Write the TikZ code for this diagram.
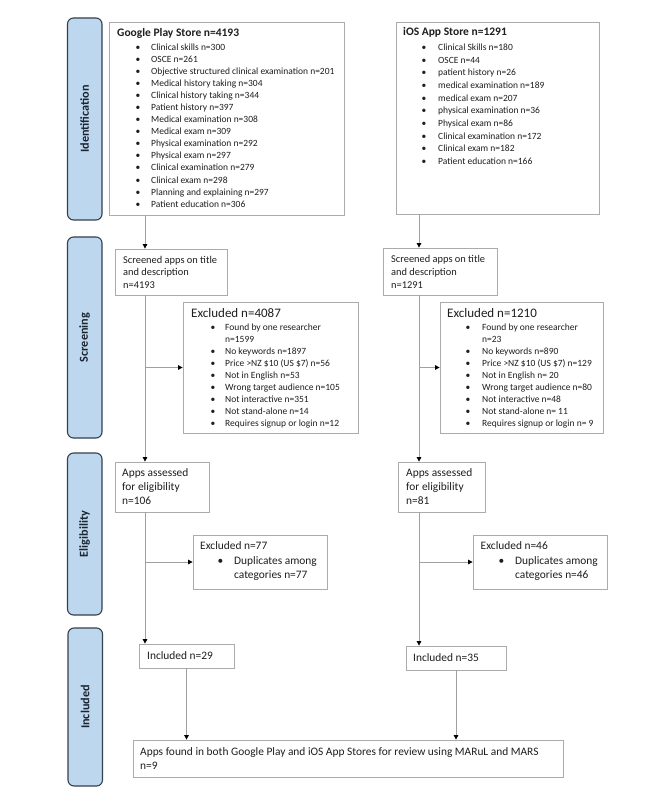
\documentclass[tikz,border=0pt]{standalone}
\usepackage{fontspec}
\setmainfont{Carlito}
\usetikzlibrary{arrows.meta,fit}
\definecolor{barfill}{HTML}{BDD7EE}
\definecolor{bardraw}{HTML}{34404C}
\definecolor{bartext}{HTML}{1C2430}
\definecolor{boxgray}{HTML}{ABABAB}
\definecolor{linegray}{HTML}{A0A0A0}
\definecolor{txt}{HTML}{1E1E1E}
\begin{document}
\begin{tikzpicture}[x=1pt,y=-1pt,
  bar/.style={draw=bardraw, fill=barfill, line width=1.1pt, rounded corners=6pt, inner sep=0pt},
  barlabel/.style={rotate=90, font=\bfseries\fontsize{12.2}{14}\selectfont, text=bartext, inner sep=0pt},
  box/.style={draw=boxgray, line width=0.8pt, inner sep=0pt},
  itm/.style={anchor=base west, inner sep=0pt, text=txt, font=\fontsize{9.5}{12}\selectfont},
  bul/.style={anchor=base west, inner sep=0pt, text=txt, font=\fontsize{9.5}{12}\selectfont},
  ttl/.style={anchor=base west, inner sep=0pt, text=txt, font=\bfseries\fontsize{11.5}{14}\selectfont},
  extitle/.style={anchor=base west, inner sep=0pt, text=txt, font=\fontsize{13}{15}\selectfont},
  mid/.style={anchor=base west, inner sep=0pt, text=txt, font=\fontsize{10.4}{12.6}\selectfont},
  big/.style={anchor=base west, inner sep=0pt, text=txt, font=\fontsize{11.4}{14}\selectfont},
  conn/.style={draw=linegray, line width=0.9pt},
  arr/.style={conn, -{Triangle[width=4.5pt,length=4.5pt,color=black]}}
]
\fill[white] (0,0) rectangle (666,799);
\useasboundingbox (0,0) rectangle (666,799);

% side bars
\node[bar, fit={(67.5,18) (102,220)}] (bid) {};
\node[barlabel] (lid) at (bid.center) {Identification};
\node[bar, fit={(67.5,237) (102,438)}] (bsc) {};
\node[barlabel] (lsc) at (bsc.center) {Screening};
\node[bar, fit={(67.5,453) (102,615)}] (bel) {};
\node[barlabel] (lel) at (bel.center) {Eligibility};
\node[bar, fit={(68,628) (102.5,786)}] (bin) {};
\node[barlabel] (lin) at (bin.center) {Included};

% column x positions
\coordinate (gx) at (145,0);
\coordinate (ix) at (419,0);

% Identification boxes
\node[box, fit={(109,22) (344,215)}] (gbox) {};
\node[ttl] (gttl) at (117,37) {Google Play Store n=4193};
\foreach \t [count=\i from 0] in {Clinical skills n=300, OSCE n=261, Objective structured clinical examination n=201, Medical history taking n=304, Clinical history taking n=344, Patient history n=397, Medical examination n=308, Medical exam n=309, Physical examination n=292, Physical exam n=297, Clinical examination n=279, Clinical exam n=298, Planning and explaining n=297, Patient education n=306}{
  \node[bul] (gb\i) at (135.5,{50.5+12.05*\i}) {\textbullet};
  \node[itm] (gi\i) at (151,{50.5+12.05*\i}) {\t};
}

\node[box, fit={(396,22) (599,214)}] (ibox) {};
\node[ttl] (ittl) at (403,36) {iOS App Store n=1291};
\foreach \t [count=\i from 0] in {Clinical Skills n=180, OSCE n=44, patient history n=26, medical examination n=189, medical exam n=207, physical examination n=36, Physical exam n=86, Clinical examination n=172, Clinical exam n=182, Patient education n=166}{
  \node[bul] (ib\i) at (421.5,{50.5+12.67*\i}) {\textbullet};
  \node[itm] (ii\i) at (438,{50.5+12.67*\i}) {\t};
}

% Screening (multi-line nodes: base anchor = last line)
\node[box, fit={(115,249) (227,295)}] (gscr) {};
\node[mid, align=left] (gscrt) at (123,288.5) {Screened apps on title\\and description\\n=4193};
\node[box, fit={(383,248) (497,295)}] (iscr) {};
\node[mid, align=left] (iscrt) at (391,288) {Screened apps on title\\and description\\n=1291};

\node[box, fit={(183,302) (358,433)}] (gexc) {};
\node[extitle] (gexct) at (191,317.5) {Excluded n=4087};
\foreach \t [count=\i from 0] in {Found by one researcher, n=1599, No keywords n=1897, Price >NZ \$10 (US \$7) n=56, Not in English n=53, Wrong target audience n=105, Not interactive n=351, Not stand-alone n=14, Requires signup or login n=12}{
  \ifnum\i=1\relax\else
  \node[bul] (gxb\i) at (210.5,{330.2+12*\i}) {\textbullet};
  \fi
  \node[itm] (gxi\i) at (225,{330.2+12*\i}) {\t};
}

\node[box, fit={(440,302) (603,433)}] (iexc) {};
\node[extitle] (iexct) at (447,317.5) {Excluded n=1210};
\foreach \t [count=\i from 0] in {Found by one researcher, n=23, No keywords n=890, Price >NZ \$10 (US \$7) n=129, Not in English n= 20, Wrong target audience n=80, Not interactive n=48, Not stand-alone n= 11, Requires signup or login n= 9}{
  \ifnum\i=1\relax\else
  \node[bul] (ixb\i) at (465.5,{330.2+12*\i}) {\textbullet};
  \fi
  \node[itm] (ixi\i) at (482,{330.2+12*\i}) {\t};
}

% Eligibility
\node[box, fit={(115,462) (209,512)}] (gel) {};
\node[big, align=left] (gelt) at (122,504) {Apps assessed\\for eligibility\\n=106};
\node[box, fit={(398,462) (485,512)}] (iel) {};
\node[big, align=left] (ielt) at (406,504) {Apps assessed\\for eligibility\\n=81};

\node[box, fit={(193,535) (327,589)}] (gex2) {};
\node[big] (gex2t) at (200,549.5) {Excluded n=77};
\node[big] (gex2b) at (217.5,564) {\textbullet};
\node[big, align=left] (gex2i) at (234,578) {Duplicates among\\categories n=77};

\node[box, fit={(473,535) (607,589)}] (iex2) {};
\node[big] (iex2t) at (480.5,549.5) {Excluded n=46};
\node[big] (iex2b) at (498.5,564) {\textbullet};
\node[big, align=left] (iex2i) at (515,578) {Duplicates among\\categories n=46};

% Included
\node[box, fit={(139,644) (234,668)}] (ginc) {};
\node[big] (ginct) at (147,659.5) {Included n=29};
\node[box, fit={(406,646) (506,670)}] (iinc) {};
\node[big] (iinct) at (413,661) {Included n=35};

\node[box, fit={(133,740) (563,777)}] (fin) {};
\node[big, align=left] (fint) at (140,769) {Apps found in both Google Play and iOS App Stores for review using MARuL and MARS\\n=9};

% connectors, Google column
\draw[arr] (gbox.south -| gx) -- (gscr.north -| gx);
\draw[arr] (gscr.south -| gx) -- (gel.north -| gx);
\draw[arr] (gexc.west -| gx) -- (gexc.west);
\draw[arr] (gel.south -| gx) -- (ginc.north -| gx);
\draw[arr] (gex2.west -| gx) -- (gex2.west);
\draw[arr] (ginc.south) -- (fin.north -| ginc.south);

% connectors, iOS column
\draw[arr] (ibox.south -| ix) -- (iscr.north -| ix);
\draw[arr] (iscr.south -| ix) -- (iel.north -| ix);
\draw[arr] (iexc.west -| ix) -- (iexc.west);
\draw[arr] (iel.south -| ix) -- (iinc.north -| ix);
\draw[arr] (iex2.west -| ix) -- (iex2.west);
\draw[arr] (iinc.south) -- (fin.north -| iinc.south);
\end{tikzpicture}
\end{document}
